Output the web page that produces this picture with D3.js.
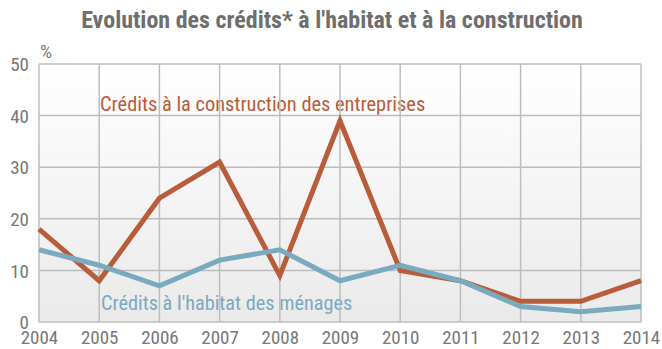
<!DOCTYPE html>
<html>
<head>
<meta charset="utf-8">
<script src="https://cdn.jsdelivr.net/npm/d3@7"></script>
<style>
  html, body { margin: 0; padding: 0; background: #fff; }
  svg { display: block; }
  text { font-family: "Liberation Sans Narrow", "Roboto Condensed", "Roboto", sans-serif; }
</style>
</head>
<body>
<svg id="chart" width="662" height="349"></svg>
<script>
// Years on the horizontal axis
const years = [2004, 2005, 2006, 2007, 2008, 2009, 2010, 2011, 2012, 2013, 2014];
// Annual growth (%) of construction loans to businesses
const construction = [18, 8, 24, 31, 9, 39, 10, 8, 4, 4, 8];
// Annual growth (%) of housing loans to households
const habitat = [14, 11, 7, 12, 14, 8, 11, 8, 3, 2, 3];
// Vertical axis ticks
const yTicks = [0, 10, 20, 30, 40, 50];

const svg = d3.select("#chart");
const plotL = 39, plotR = 641, plotT = 64, plotB = 322;

const x = d3.scaleLinear().domain([2004, 2014]).range([plotL, plotR]);
const y = d3.scaleLinear().domain([0, 50]).range([plotB, plotT]);

// Plot background: white fading to light grey
const defs = svg.append("defs");
const grad = defs.append("linearGradient").attr("id", "bg")
  .attr("x1", 0).attr("y1", 0).attr("x2", 0).attr("y2", 1);
grad.append("stop").attr("offset", "0%").attr("stop-color", "#ffffff");
grad.append("stop").attr("offset", "100%").attr("stop-color", "#eaeaea");

svg.append("rect")
  .attr("x", plotL).attr("y", plotT)
  .attr("width", plotR - plotL).attr("height", plotB - plotT)
  .attr("fill", "url(#bg)");

// Title
svg.append("text")
  .attr("x", 332).attr("y", 28)
  .attr("text-anchor", "middle")
  .attr("fill", "#6e6e6e")
  .attr("font-size", 24).attr("font-weight", "bold")
  .text("Evolution des crédits* à l'habitat et à la construction");

// Series labels (grid lines are drawn over them)
svg.append("text")
  .attr("x", 100).attr("y", 111)
  .attr("fill", "#b85c3a")
  .attr("font-size", 20.4)
  .text("Crédits à la construction des entreprises");

svg.append("text")
  .attr("x", 101).attr("y", 310)
  .attr("fill", "#7aaac0")
  .attr("font-size", 20.3)
  .text("Crédits à l'habitat des ménages");

// Grid
const grid = svg.append("g").attr("stroke", "#bdbdbd").attr("stroke-width", 1.5);
grid.selectAll("line.h").data(yTicks).join("line")
  .attr("x1", plotL).attr("x2", plotR)
  .attr("y1", d => y(d)).attr("y2", d => y(d));
grid.selectAll("line.v").data(years).join("line")
  .attr("x1", d => x(d)).attr("x2", d => x(d))
  .attr("y1", plotT).attr("y2", plotB);

// Axes (labels only)
const yAxis = svg.append("g")
  .attr("transform", `translate(${plotL},0)`)
  .call(d3.axisLeft(y).tickValues(yTicks).tickSize(0).tickPadding(10).tickFormat(d3.format("d")));
yAxis.select(".domain").remove();
yAxis.selectAll("text")
  .attr("fill", "#777").attr("font-size", 19).attr("dy", "0.35em");

const xAxis = svg.append("g")
  .attr("transform", `translate(0,${plotB})`)
  .call(d3.axisBottom(x).tickValues(years).tickSize(0).tickPadding(9).tickFormat(d3.format("d")));
xAxis.select(".domain").remove();
xAxis.selectAll("text")
  .attr("fill", "#777").attr("font-size", 19);

svg.append("text")
  .attr("x", 46).attr("y", 58)
  .attr("text-anchor", "middle")
  .attr("fill", "#777").attr("font-size", 19)
  .text("%");

// Lines
const line = d3.line().x((d, i) => x(years[i])).y(d => y(d));

svg.append("path").datum(construction)
  .attr("fill", "none").attr("stroke", "#b85c3a")
  .attr("stroke-width", 5).attr("stroke-linejoin", "miter")
  .attr("d", line);

svg.append("path").datum(habitat)
  .attr("fill", "none").attr("stroke", "#7aaac0")
  .attr("stroke-width", 5).attr("stroke-linejoin", "miter")
  .attr("d", line);
</script>
</body>
</html>
